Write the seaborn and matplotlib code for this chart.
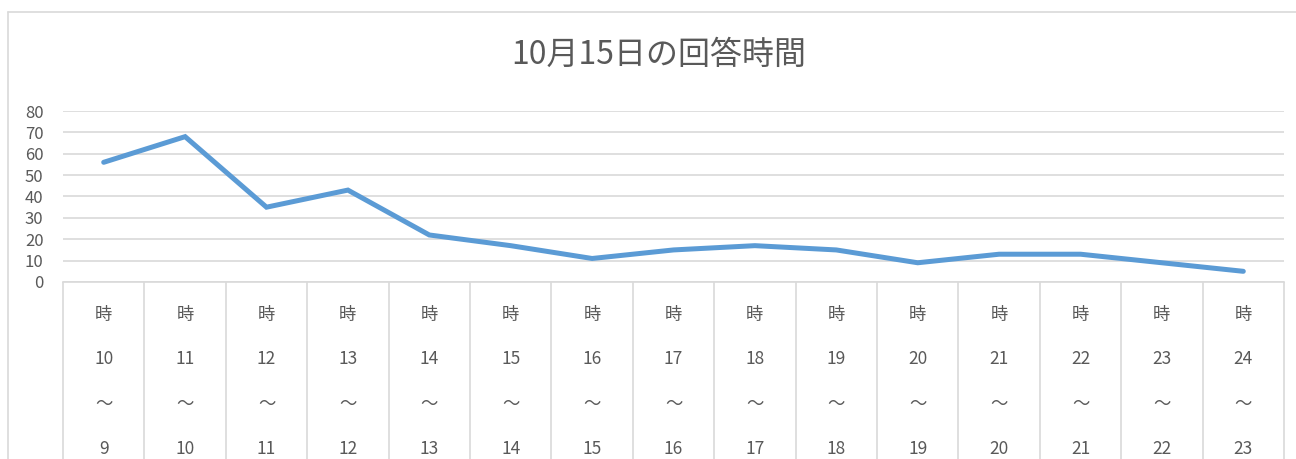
import matplotlib
matplotlib.use("Agg")
import matplotlib.pyplot as plt
from matplotlib.lines import Line2D
import seaborn as sns
import pandas as pd

start_hours = [9, 10, 11, 12, 13, 14, 15, 16, 17, 18, 19, 20, 21, 22, 23]
end_hours = [10, 11, 12, 13, 14, 15, 16, 17, 18, 19, 20, 21, 22, 23, 24]
counts = [56, 68, 35, 43, 22, 17, 11, 15, 17, 15, 9, 13, 13, 9, 5]
title = "10月15日の回答時間"

labels = [f"時\n{e}\n～\n{s}" for s, e in zip(start_hours, end_hours)]

sns.set_theme(style="white")
plt.rcParams["font.family"] = ["Noto Sans CJK JP", "DejaVu Sans"]

W, H = 1296, 459
fig = plt.figure(figsize=(W / 100, H / 100), dpi=100)
ax = fig.add_axes([63 / W, 1 - 282 / H, (1284 - 63) / W, (282 - 111) / H])

df = pd.DataFrame({"pos": list(range(len(counts))), "count": counts})
sns.lineplot(data=df, x="pos", y="count", ax=ax, color="#5B9BD5", linewidth=3.6,
             solid_capstyle="round", solid_joinstyle="miter")

ax.set_xlim(-0.5, len(counts) - 0.5)
ax.set_ylim(0, 80)
ax.set_yticks(range(0, 81, 10))
ax.yaxis.grid(True, color="#D9D9D9", linewidth=1.2)
ax.set_axisbelow(True)
for side in ["top", "right", "left"]:
    ax.spines[side].set_visible(False)
ax.spines["bottom"].set_color("#D9D9D9")
ax.spines["bottom"].set_linewidth(1.2)

ax.set_xticks(range(len(counts)))
ax.set_xticklabels(labels, linespacing=2.92, va="top")
ax.set_xticks([i - 0.5 for i in range(len(counts) + 1)], minor=True)
ax.tick_params(axis="x", which="major", bottom=True, length=0, pad=17, labelsize=12.5, labelcolor="#595959")
ax.tick_params(axis="x", which="minor", bottom=True, length=140, width=1.2, color="#D9D9D9", direction="out")
ax.tick_params(axis="y", length=0, pad=14, labelsize=12, labelcolor="#595959")
ax.set_xlabel("")
ax.set_ylabel("")

fig.text(659 / W, 1 - 55 / H, title, ha="center", va="center", fontsize=23, color="#595959")

fig.add_artist(Line2D([8 / W, 8 / W], [0, 1 - 12 / H], transform=fig.transFigure, color="#D9D9D9", linewidth=1.2))
fig.add_artist(Line2D([8 / W, 1], [1 - 12 / H, 1 - 12 / H], transform=fig.transFigure, color="#D9D9D9", linewidth=1.2))

fig.savefig("out.png", dpi=100, facecolor="white")
